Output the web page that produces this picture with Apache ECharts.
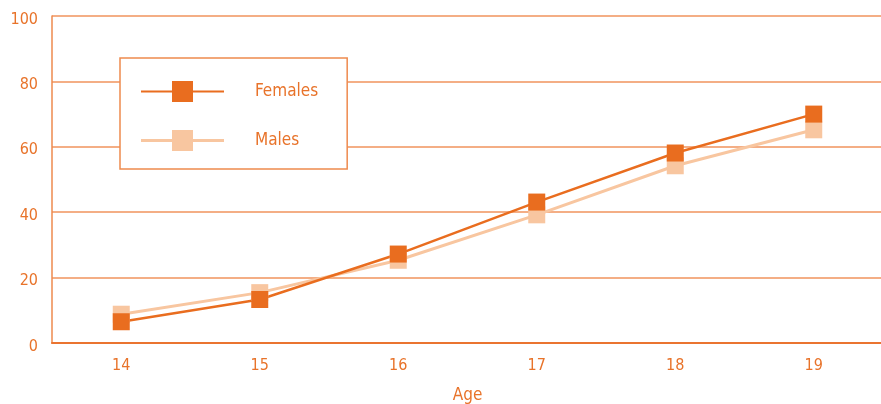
<!DOCTYPE html>
<html><head><meta charset="utf-8">
<script src="https://cdn.jsdelivr.net/npm/echarts@6/dist/echarts.min.js"></script>
<style>html,body{margin:0;padding:0;background:#fff}#c{width:881px;height:404px}</style>
</head><body><div id="c"></div>
<script>
const categories = ['14','15','16','17','18','19'];
const females = [6.5, 13.3, 27.2, 43.1, 58.1, 70];
const males = [8.8, 15.4, 25.3, 39.2, 54.2, 65.2];
const yTicks = [0, 20, 40, 60, 80, 100];

const FONT = '"DejaVu Sans Condensed", "Liberation Sans Narrow", sans-serif';
const TXT = '#E8732A';
const ICON = 'path://M0,9.5H31V0H52V9.5H83V11.5H52V21H31V11.5H0Z';
const ICON_M = 'path://M0,9H31V0H52V9H83V12H52V21H31V12H0Z';
const chart = echarts.init(document.getElementById('c'));
chart.setOption({
  animation: false,
  backgroundColor: '#fff',
  grid: { left: 52, top: 16, width: 831, bottom: 61, outerBoundsMode: 'none', containLabel: false },
  legend: {
    data: [{ name: 'Females', icon: ICON }, { name: 'Males', icon: ICON_M }],
    orient: 'vertical', left: 120, top: 58,
    borderColor: '#EE8A4E', borderWidth: 1.5,
    padding: [23, 29, 18, 21],
    itemWidth: 83, itemHeight: 21, itemGap: 28,
    backgroundColor: '#fff',
    textStyle: { color: TXT, fontFamily: FONT, fontSize: 17, padding: [0, 0, 0, 26], width: 80 }
  },
  xAxis: {
    type: 'category', data: categories,
    name: 'Age', nameLocation: 'middle', nameGap: 44,
    nameTextStyle: { color: TXT, fontFamily: FONT, fontSize: 17 },
    axisLine: { lineStyle: { color: '#EA7430', width: 2 } },
    axisTick: { show: false },
    axisLabel: { color: TXT, fontFamily: FONT, fontSize: 16, margin: 15 }
  },
  yAxis: {
    type: 'value', min: 0, max: 100, interval: 20,
    axisLine: { show: true, lineStyle: { color: '#EE8A4E', width: 1.5 } },
    axisTick: { show: false },
    axisLabel: { color: TXT, fontFamily: FONT, fontSize: 16, margin: 14,
      formatter: v => yTicks.includes(v) ? '{a|' + v + '}' : '',
      rich: { a: { color: TXT, fontFamily: FONT, fontSize: 16, padding: [7, 0, 0, 0] } } },
    splitLine: { lineStyle: { color: '#F0935C', width: 1.5 } }
  },
  series: [
    { name: 'Males', type: 'line', data: males, symbol: 'rect', symbolSize: 17,
      itemStyle: { color: '#F8C6A0' }, lineStyle: { color: '#F8C6A0', width: 3 } },
    { name: 'Females', type: 'line', data: females, symbol: 'rect', symbolSize: 17,
      itemStyle: { color: '#E96D1F' }, lineStyle: { color: '#E96D1F', width: 2.5 } }
  ]
});
</script></body></html>
